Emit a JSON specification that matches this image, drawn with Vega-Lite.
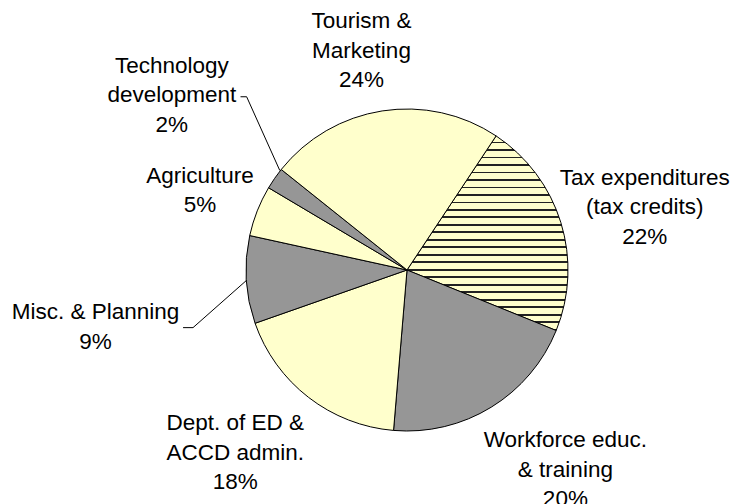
{
  "$schema": "https://vega.github.io/schema/vega-lite/v6.json",
  "autosize": {"type": "none"},
  "width": 664,
  "height": 468,
  "padding": {"left": 75, "top": 36, "right": 0, "bottom": 0},
  "background": "white",
  "config": {"view": {"stroke": null}},
  "data": {
    "values": [
      {"idx": 1, "cat": "Tax expenditures", "label": "Tax expenditures\n(tax credits)\n22%", "share": 0.218},
      {"idx": 2, "cat": "Workforce", "label": "Workforce educ.\n& training\n20%", "share": 0.202},
      {"idx": 3, "cat": "Dept. of ED", "label": "Dept. of ED &\nACCD admin.\n18%", "share": 0.183},
      {"idx": 4, "cat": "Misc", "label": "Misc. & Planning\n9%", "share": 0.088},
      {"idx": 5, "cat": "Agriculture", "label": "Agriculture\n5%", "share": 0.051},
      {"idx": 6, "cat": "Technology", "label": "Technology\ndevelopment\n2%", "share": 0.022},
      {"idx": 7, "cat": "Tourism", "label": "Tourism &\nMarketing\n24%", "share": 0.236}
    ]
  },
  "layer": [
    {
      "mark": {"type": "arc", "radius": 161, "stroke": "#000000", "strokeWidth": 1},
      "encoding": {
        "theta": {"field": "share", "type": "quantitative", "stack": true, "scale": {"range": [0.5864, 6.8696]}},
        "order": {"field": "idx", "type": "quantitative"},
        "fill": {
          "condition": {
            "test": "datum.cat === 'Tax expenditures'",
            "value": {
              "gradient": "linear", "x1": 0, "y1": 0, "x2": 0, "y2": 1,
              "stops": [
                {"offset": 0, "color": "#FFFFCC"}, {"offset": 0.0295, "color": "#FFFFCC"}, {"offset": 0.0295, "color": "#222222"}, {"offset": 0.0385, "color": "#222222"},
                {"offset": 0.0385, "color": "#FFFFCC"}, {"offset": 0.0679, "color": "#FFFFCC"}, {"offset": 0.0679, "color": "#222222"}, {"offset": 0.0769, "color": "#222222"},
                {"offset": 0.0769, "color": "#FFFFCC"}, {"offset": 0.1064, "color": "#FFFFCC"}, {"offset": 0.1064, "color": "#222222"}, {"offset": 0.1154, "color": "#222222"},
                {"offset": 0.1154, "color": "#FFFFCC"}, {"offset": 0.1448, "color": "#FFFFCC"}, {"offset": 0.1448, "color": "#222222"}, {"offset": 0.1538, "color": "#222222"},
                {"offset": 0.1538, "color": "#FFFFCC"}, {"offset": 0.1833, "color": "#FFFFCC"}, {"offset": 0.1833, "color": "#222222"}, {"offset": 0.1923, "color": "#222222"},
                {"offset": 0.1923, "color": "#FFFFCC"}, {"offset": 0.2218, "color": "#FFFFCC"}, {"offset": 0.2218, "color": "#222222"}, {"offset": 0.2308, "color": "#222222"},
                {"offset": 0.2308, "color": "#FFFFCC"}, {"offset": 0.2602, "color": "#FFFFCC"}, {"offset": 0.2602, "color": "#222222"}, {"offset": 0.2692, "color": "#222222"},
                {"offset": 0.2692, "color": "#FFFFCC"}, {"offset": 0.2987, "color": "#FFFFCC"}, {"offset": 0.2987, "color": "#222222"}, {"offset": 0.3077, "color": "#222222"},
                {"offset": 0.3077, "color": "#FFFFCC"}, {"offset": 0.3372, "color": "#FFFFCC"}, {"offset": 0.3372, "color": "#222222"}, {"offset": 0.3462, "color": "#222222"},
                {"offset": 0.3462, "color": "#FFFFCC"}, {"offset": 0.3756, "color": "#FFFFCC"}, {"offset": 0.3756, "color": "#222222"}, {"offset": 0.3846, "color": "#222222"},
                {"offset": 0.3846, "color": "#FFFFCC"}, {"offset": 0.4141, "color": "#FFFFCC"}, {"offset": 0.4141, "color": "#222222"}, {"offset": 0.4231, "color": "#222222"},
                {"offset": 0.4231, "color": "#FFFFCC"}, {"offset": 0.4525, "color": "#FFFFCC"}, {"offset": 0.4525, "color": "#222222"}, {"offset": 0.4615, "color": "#222222"},
                {"offset": 0.4615, "color": "#FFFFCC"}, {"offset": 0.4910, "color": "#FFFFCC"}, {"offset": 0.4910, "color": "#222222"}, {"offset": 0.5, "color": "#222222"},
                {"offset": 0.5, "color": "#FFFFCC"}, {"offset": 0.5295, "color": "#FFFFCC"}, {"offset": 0.5295, "color": "#222222"}, {"offset": 0.5385, "color": "#222222"},
                {"offset": 0.5385, "color": "#FFFFCC"}, {"offset": 0.5679, "color": "#FFFFCC"}, {"offset": 0.5679, "color": "#222222"}, {"offset": 0.5769, "color": "#222222"},
                {"offset": 0.5769, "color": "#FFFFCC"}, {"offset": 0.6064, "color": "#FFFFCC"}, {"offset": 0.6064, "color": "#222222"}, {"offset": 0.6154, "color": "#222222"},
                {"offset": 0.6154, "color": "#FFFFCC"}, {"offset": 0.6448, "color": "#FFFFCC"}, {"offset": 0.6448, "color": "#222222"}, {"offset": 0.6538, "color": "#222222"},
                {"offset": 0.6538, "color": "#FFFFCC"}, {"offset": 0.6833, "color": "#FFFFCC"}, {"offset": 0.6833, "color": "#222222"}, {"offset": 0.6923, "color": "#222222"},
                {"offset": 0.6923, "color": "#FFFFCC"}, {"offset": 0.7218, "color": "#FFFFCC"}, {"offset": 0.7218, "color": "#222222"}, {"offset": 0.7308, "color": "#222222"},
                {"offset": 0.7308, "color": "#FFFFCC"}, {"offset": 0.7602, "color": "#FFFFCC"}, {"offset": 0.7602, "color": "#222222"}, {"offset": 0.7692, "color": "#222222"},
                {"offset": 0.7692, "color": "#FFFFCC"}, {"offset": 0.7987, "color": "#FFFFCC"}, {"offset": 0.7987, "color": "#222222"}, {"offset": 0.8077, "color": "#222222"},
                {"offset": 0.8077, "color": "#FFFFCC"}, {"offset": 0.8372, "color": "#FFFFCC"}, {"offset": 0.8372, "color": "#222222"}, {"offset": 0.8462, "color": "#222222"},
                {"offset": 0.8462, "color": "#FFFFCC"}, {"offset": 0.8756, "color": "#FFFFCC"}, {"offset": 0.8756, "color": "#222222"}, {"offset": 0.8846, "color": "#222222"},
                {"offset": 0.8846, "color": "#FFFFCC"}, {"offset": 0.9141, "color": "#FFFFCC"}, {"offset": 0.9141, "color": "#222222"}, {"offset": 0.9231, "color": "#222222"},
                {"offset": 0.9231, "color": "#FFFFCC"}, {"offset": 0.9525, "color": "#FFFFCC"}, {"offset": 0.9525, "color": "#222222"}, {"offset": 0.9615, "color": "#222222"},
                {"offset": 0.9615, "color": "#FFFFCC"}, {"offset": 0.9910, "color": "#FFFFCC"}, {"offset": 0.9910, "color": "#222222"}, {"offset": 1, "color": "#222222"}
              ]
            }
          },
          "field": "cat",
          "type": "nominal",
          "scale": {
            "domain": ["Tax expenditures", "Workforce", "Dept. of ED", "Misc", "Agriculture", "Technology", "Tourism"],
            "range": ["#FFFFCC", "#969696", "#FFFFCC", "#969696", "#FFFFCC", "#969696", "#FFFFCC"]
          },
          "legend": null
        }
      }
    },
    {
      "mark": {
        "type": "text",
        "radius": 230,
        "font": "Liberation Sans",
        "fontSize": 22.5,
        "lineHeight": 29.5,
        "lineBreak": "\n",
        "align": "center",
        "baseline": "middle",
        "color": "#000000",
        "dx": {"expr": "datum.cat === 'Tax expenditures' ? 18 : datum.cat === 'Workforce' ? 38 : datum.cat === 'Dept. of ED' ? -31 : datum.cat === 'Misc' ? -82 : datum.cat === 'Agriculture' ? 7 : datum.cat === 'Technology' ? -46 : -10"},
        "dy": {"expr": "datum.cat === 'Tax expenditures' ? -24.5 : datum.cat === 'Workforce' ? -25.5 : datum.cat === 'Dept. of ED' ? -28.5 : datum.cat === 'Misc' ? 28.25 : datum.cat === 'Agriculture' ? -9.75 : datum.cat === 'Technology' ? -73.5 : -21.5"}
      },
      "encoding": {
        "theta": {"field": "share", "type": "quantitative", "stack": true},
        "order": {"field": "idx", "type": "quantitative"},
        "text": {"field": "label", "type": "nominal"},
        "detail": {"field": "cat", "type": "nominal"}
      }
    },
    {
      "data": {"values": [{"leader": "Technology development"}]},
      "mark": {"type": "rule", "color": "#000000", "strokeWidth": 1},
      "encoding": {
        "x": {"datum": -1.034, "type": "quantitative", "scale": {"domain": [-2.0621, 2.0621], "nice": false, "zero": false}, "axis": null},
        "y": {"datum": 1.076, "type": "quantitative", "scale": {"domain": [-1.4534, 1.4534], "nice": false, "zero": false}, "axis": null},
        "x2": {"datum": -0.996},
        "y2": {"datum": 1.076}
      }
    },
    {
      "data": {"values": [{"leader": "Technology development"}]},
      "mark": {"type": "rule", "color": "#000000", "strokeWidth": 1},
      "encoding": {
        "x": {"datum": -0.996, "type": "quantitative", "scale": {"domain": [-2.0621, 2.0621], "nice": false, "zero": false}, "axis": null},
        "y": {"datum": 1.076, "type": "quantitative", "scale": {"domain": [-1.4534, 1.4534], "nice": false, "zero": false}, "axis": null},
        "x2": {"datum": -0.79},
        "y2": {"datum": 0.618}
      }
    },
    {
      "data": {"values": [{"leader": "Misc. & Planning"}]},
      "mark": {"type": "rule", "color": "#000000", "strokeWidth": 1},
      "encoding": {
        "x": {"datum": -1.391, "type": "quantitative", "scale": {"domain": [-2.0621, 2.0621], "nice": false, "zero": false}, "axis": null},
        "y": {"datum": -0.358, "type": "quantitative", "scale": {"domain": [-1.4534, 1.4534], "nice": false, "zero": false}, "axis": null},
        "x2": {"datum": -1.329},
        "y2": {"datum": -0.358}
      }
    },
    {
      "data": {"values": [{"leader": "Misc. & Planning"}]},
      "mark": {"type": "rule", "color": "#000000", "strokeWidth": 1},
      "encoding": {
        "x": {"datum": -1.329, "type": "quantitative", "scale": {"domain": [-2.0621, 2.0621], "nice": false, "zero": false}, "axis": null},
        "y": {"datum": -0.358, "type": "quantitative", "scale": {"domain": [-1.4534, 1.4534], "nice": false, "zero": false}, "axis": null},
        "x2": {"datum": -0.994},
        "y2": {"datum": -0.062}
      }
    }
  ]
}
